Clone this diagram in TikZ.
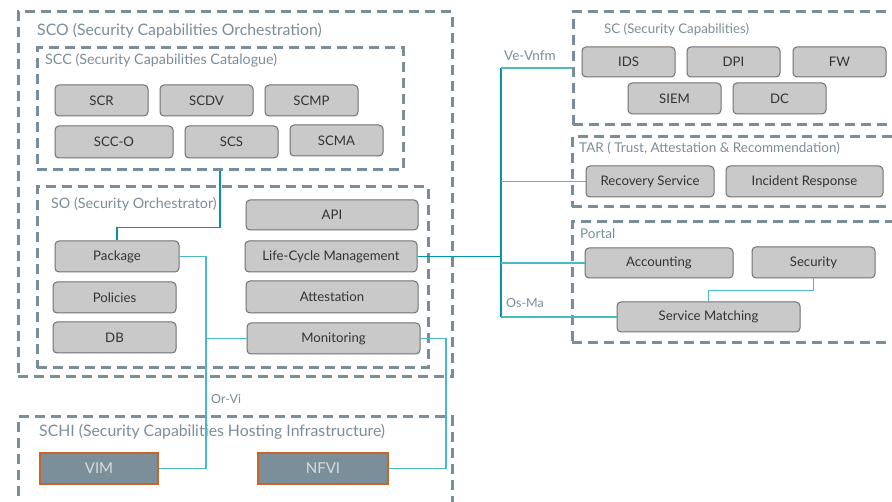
\documentclass[tikz,border=0pt]{standalone}
\usepackage{fontspec}
\setmainfont{Lato}
\usetikzlibrary{fit}
\definecolor{slate}{RGB}{122,142,153}
\definecolor{boxfill}{RGB}{201,201,201}
\definecolor{boxline}{RGB}{112,112,112}
\definecolor{txt}{RGB}{51,51,51}
\definecolor{tealA}{RGB}{0,150,165}
\definecolor{tealB}{RGB}{75,185,196}
\definecolor{vimfill}{RGB}{122,143,153}
\definecolor{vimline}{RGB}{200,100,40}
\definecolor{vimtxt}{RGB}{215,220,222}
\tikzset{
  dbox/.style={draw=slate, line width=3pt, dash pattern=on 10pt off 6pt, inner sep=0pt},
  title/.style={anchor=base west, text=slate, inner sep=0pt, font=\fontsize{15.8}{18}\selectfont},
  subtitle/.style={title, font=\fontsize{14.3}{16}\selectfont},
  small/.style={title, font=\fontsize{12.5}{14}\selectfont},
  cbox/.style={draw=boxline, fill=boxfill, rounded corners=4pt, line width=1pt, inner sep=0pt},
  clbl/.style={text=txt, inner sep=0pt, font=\fontsize{13.2}{15}\selectfont},
  ibox/.style={draw=vimline, fill=vimfill, line width=1.3pt, inner sep=0pt},
  ilbl/.style={text=vimtxt, inner sep=0pt, font=\fontsize{15}{17}\selectfont},
  conn/.style={draw=tealA, line width=1.2pt},
  connl/.style={draw=tealB, line width=1.2pt},
}
\begin{document}
\begin{tikzpicture}[x=1pt,y=-1pt]
\clip (0,0) rectangle (892,502);
\fill[white] (0,0) rectangle (892,502);
% dashed containers
\node[dbox, fit={(18,12) (452,377)}] (sco) {};
\node[dbox, fit={(37,48) (403,170)}] (scc) {};
\node[dbox, fit={(37,187) (428,368)}] (so) {};
\node[dbox, fit={(18,417) (452,520)}] (schi) {};
\node[dbox, fit={(573,12) (905,125)}] (sc) {};
\node[dbox, fit={(572,137) (905,207)}] (tar) {};
\node[dbox, fit={(572,222) (905,343)}] (portal) {};
% titles
\node[title] (tsco) at (37,36) {SCO (Security Capabilities Orchestration)};
\node[subtitle] (tscc) at (45,65) {SCC (Security Capabilities Catalogue)};
\node[subtitle] (tso) at (51,209) {SO (Security Orchestrator)};
\node[title] (tschi) at (39,437) {SCHI (Security Capabilities Hosting Infrastructure)};
\node[small, font=\fontsize{13.3}{15}\selectfont] (tsc) at (604,34) {SC (Security Capabilities)};
\node[subtitle, font=\fontsize{13.5}{15}\selectfont] (ttar) at (579,153) {TAR ( Trust, Attestation \& Recommendation)};
\node[subtitle, font=\fontsize{13.5}{15}\selectfont] (tportal) at (580,239) {Portal};
\node[small, font=\fontsize{13.5}{15}\selectfont] (lve) at (504,61) {Ve-Vnfm};
\node[small] (los) at (506,308) {Os-Ma};
\node[small] (lor) at (211,404) {Or-Vi};
% capability boxes
\node[cbox, fit={(55,85) (148,116)}, label={[clbl]center:SCR}] (scr) {};
\node[cbox, fit={(160,85) (253,116)}, label={[clbl]center:SCDV}] (scdv) {};
\node[cbox, fit={(265,85) (358,116)}, label={[clbl]center:SCMP}] (scmp) {};
\node[cbox, fit={(55,126) (173,158)}, label={[clbl]center:SCC-O}] (scco) {};
\node[cbox, fit={(185,126) (278,158)}, label={[clbl]center:SCS}] (scs) {};
\node[cbox, fit={(290,125) (383,156)}, label={[clbl]center:SCMA}] (scma) {};
\node[cbox, fit={(55,241) (179,272)}, label={[clbl]center:Package}] (package) {};
\node[cbox, fit={(53,282) (176,313)}, label={[clbl]center:Policies}] (policies) {};
\node[cbox, fit={(53,322) (176,353)}, label={[clbl]center:DB}] (db) {};
\node[cbox, fit={(246,200) (418,230)}, label={[clbl]center:API}] (api) {};
\node[cbox, fit={(245,241) (417,272)}, label={[clbl]center:Life-Cycle Management}] (lcm) {};
\node[cbox, fit={(246,281) (418,313)}, label={[clbl]center:Attestation}] (att) {};
\node[cbox, fit={(247,323) (420,354)}, label={[clbl]center:Monitoring}] (mon) {};
\node[ibox, fit={(40,453) (158,484)}, label={[ilbl]center:VIM}] (vim) {};
\node[ibox, fit={(258,453) (388,484)}, label={[ilbl]center:NFVI}] (nfvi) {};
\node[cbox, fit={(582,47) (675,77)}, label={[clbl]center:IDS}] (ids) {};
\node[cbox, fit={(687,47) (780,77)}, label={[clbl]center:DPI}] (dpi) {};
\node[cbox, fit={(793,47) (886,77)}, label={[clbl]center:FW}] (fw) {};
\node[cbox, fit={(628,83) (721,114)}, label={[clbl]center:SIEM}] (siem) {};
\node[cbox, fit={(733,83) (826,114)}, label={[clbl]center:DC}] (dc) {};
\node[cbox, fit={(586,166) (714,197)}, label={[clbl]center:Recovery Service}] (rec) {};
\node[cbox, fit={(726,166) (883,197)}, label={[clbl]center:Incident Response}] (inc) {};
\node[cbox, fit={(585,248) (733,278)}, label={[clbl]center:Accounting}] (acc) {};
\node[cbox, fit={(752,247) (875,278)}, label={[clbl]center:Security}] (sec) {};
\node[cbox, fit={(617,302) (800,332)}, label={[clbl]center:Service Matching}] (match) {};
% bus coordinates
\coordinate (busL) at (206,0);
\coordinate (busM) at (446,0);
\coordinate (busR) at (501,0);
\coordinate (vtop) at (501,68);
\coordinate (vbot) at (501,317);
% connectors
\draw[conn] (scc.south) -- ++(0,56) -| (package.north);
\draw[connl] (package.east) -| (busL |- vim.east) -- (vim.east);
\draw[connl] (mon.west) -- (busL |- mon.west);
\draw[connl] (mon.east) -| (busM |- nfvi.east) -- (nfvi.east);
\draw[conn] (lcm.east) -- (busR |- lcm.east);
\draw[conn] (vtop) -- (vbot);
\draw[connl] (vtop) -- (sc.west |- vtop);
\draw[connl] (busR |- rec.west) -- (rec.west);
\draw[connl] (busR |- acc.west) -- (acc.west);
\draw[connl] (vbot) -- (match.west);
\draw[connl] (sec.south) -- ++(0,12) -| (match.north);
\end{tikzpicture}
\end{document}
